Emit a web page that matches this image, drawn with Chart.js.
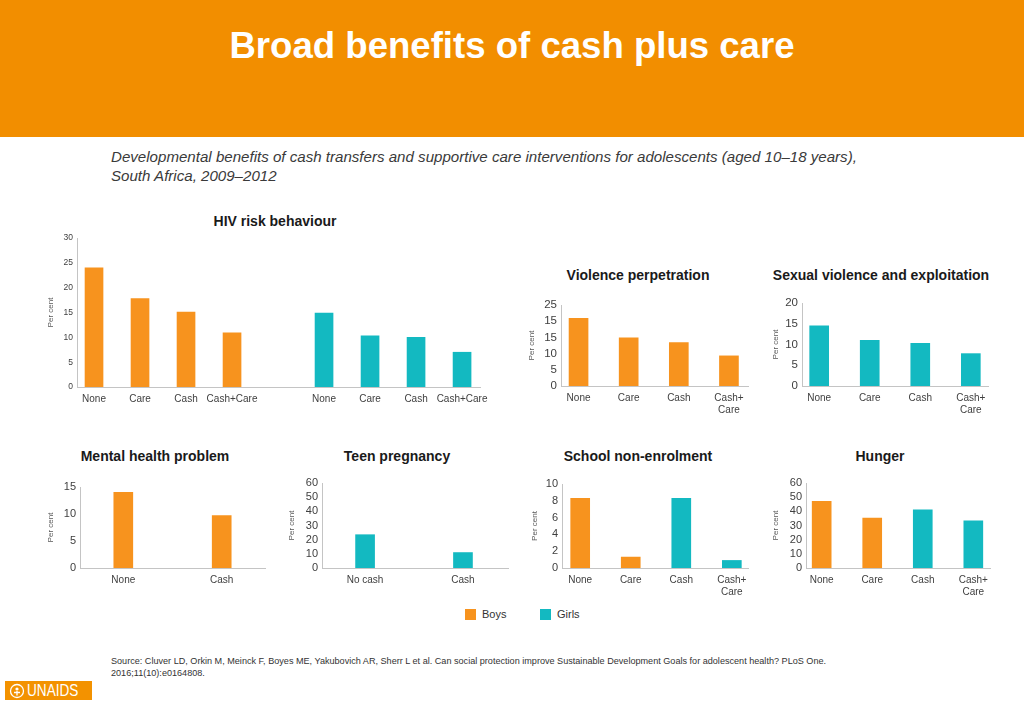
<!DOCTYPE html>
<html><head><meta charset="utf-8">
<script src="https://cdn.jsdelivr.net/npm/chart.js@4.4.1/dist/chart.umd.min.js"></script>
<style>
html,body{margin:0;padding:0;background:#fff;width:1024px;height:709px;overflow:hidden;font-family:'Liberation Sans',Arial,sans-serif;}
#header{position:absolute;left:0;top:0;width:1024px;height:137px;background:#F28E00;}
#title{position:absolute;left:0;width:1024px;top:25px;text-align:center;color:#fff;font-weight:bold;font-size:36.6px;line-height:42px;}
#sub{position:absolute;left:111px;top:147px;font-style:italic;font-size:15.1px;line-height:19px;color:#3a3a3a;white-space:nowrap;}
.ct{position:absolute;font-weight:bold;font-size:14px;line-height:16px;color:#1a1a1a;white-space:nowrap;transform:translate(-50%,-50%);}
canvas{position:absolute;}
#legend{position:absolute;left:0;top:0;font-size:11px;color:#333;}
.sw{position:absolute;width:11px;height:11px;}
.lt{position:absolute;line-height:13px;}
#source{position:absolute;left:111px;top:655px;font-size:9.1px;line-height:12px;color:#333;white-space:nowrap;}
#logo{position:absolute;left:5px;top:681px;width:87px;height:19px;background:#F39200;color:#fff;}
#logo span{position:absolute;left:22px;top:0px;font-size:17px;line-height:19px;display:inline-block;transform:scaleX(0.8);transform-origin:left center;}
</style>
</head>
<body>
<div id="header"></div>
<div id="title">Broad benefits of cash plus care</div>
<div id="sub">Developmental benefits of cash transfers and supportive care interventions for adolescents (aged 10–18 years),<br>South Africa, 2009–2012</div>

<div class="ct" style="left:275px;top:221px;">HIV risk behaviour</div>
<div class="ct" style="left:638px;top:275px;">Violence perpetration</div>
<div class="ct" style="left:881px;top:275px;">Sexual violence and exploitation</div>
<div class="ct" style="left:155px;top:456px;">Mental health problem</div>
<div class="ct" style="left:397px;top:456px;">Teen pregnancy</div>
<div class="ct" style="left:638px;top:456px;">School non-enrolment</div>
<div class="ct" style="left:880px;top:456px;">Hunger</div>

<canvas id="cHiv"></canvas>
<canvas id="cViol"></canvas>
<canvas id="cSex"></canvas>
<canvas id="cMental"></canvas>
<canvas id="cTeen"></canvas>
<canvas id="cSchool"></canvas>
<canvas id="cHunger"></canvas>

<div id="legend"></div>

<div id="source">Source: Cluver LD, Orkin M, Meinck F, Boyes ME, Yakubovich AR, Sherr L et al. Can social protection improve Sustainable Development Goals for adolescent health? PLoS One.<br>2016;11(10):e0164808.</div>
<div id="logo"><svg width="16" height="16" style="position:absolute;left:4px;top:1.5px" viewBox="0 0 16 16"><circle cx="8" cy="8" r="6.5" fill="none" stroke="#fff" stroke-width="1.3"/><circle cx="8" cy="6" r="1.6" fill="#fff"/><path d="M8 8 L8 12.5 M5 9.5 L11 9.5" stroke="#fff" stroke-width="1.3"/></svg><span>UNAIDS</span></div>

<script>
// ---------- data ----------
const seriesNames = ['Boys', 'Girls'];
const seriesColors = ['#F7931E', '#13B9C1'];

const hivCategories = ['None', 'Care', 'Cash', 'Cash+Care'];
const hivBoys = [24.0, 17.8, 15.1, 10.9];
const hivGirls = [14.9, 10.3, 10.0, 7.0];
const hivTicks = ['0', '5', '10', '15', '20', '25', '30'];

const violenceCategories = ['None', 'Care', 'Cash', ['Cash+', 'Care']];
const violenceBoys = [20.9, 14.9, 13.4, 9.3];
const violenceTicks = ['0', '5', '10', '15', '15', '25'];

const sexualCategories = ['None', 'Care', 'Cash', ['Cash+', 'Care']];
const sexualGirls = [14.5, 11.0, 10.3, 7.8];
const sexualTicks = ['0', '5', '10', '15', '20'];

const mentalCategories = ['None', 'Cash'];
const mentalBoys = [14.0, 9.7];
const mentalTicks = ['0', '5', '10', '15'];

const teenCategories = ['No cash', 'Cash'];
const teenGirls = [23.5, 10.9];
const teenTicks = ['0', '10', '20', '30', '40', '50', '60'];

const schoolCategories = ['None', 'Care', 'Cash', ['Cash+', 'Care']];
const schoolValues = [8.3, 1.3, 8.3, 0.9];
const schoolSeries = ['Boys', 'Boys', 'Girls', 'Girls'];
const schoolTicks = ['0', '2', '4', '6', '8', '10'];

const hungerCategories = ['None', 'Care', 'Cash', ['Cash+', 'Care']];
const hungerValues = [47.1, 35.2, 41.0, 33.3];
const hungerSeries = ['Boys', 'Boys', 'Girls', 'Girls'];
const hungerTicks = ['0', '10', '20', '30', '40', '50', '60'];

// ---------- helpers ----------
Chart.defaults.font.family = "'Liberation Sans', Arial, sans-serif";
const AXIS = '#c4c4c4';
const TICK = '#404040';
const colorOf = name => seriesColors[seriesNames.indexOf(name)];

function pointsFor(values, series, name, positions) {
  const pts = [];
  values.forEach((v, i) => { if (series[i] === name) pts.push({ x: positions[i], y: v }); });
  return pts;
}

function panel(id, geo, labels, positions, datasets, tickLabels, step, o) {
  const padTop = 8, padRight = 14, H = 34;
  const L = Math.round(geo.titleX - 9);
  const W = geo.left - L;
  const cv = document.getElementById(id);
  cv.width = Math.round(geo.right + padRight - L);
  cv.height = Math.round(geo.bottom - geo.top + padTop + H);
  cv.style.left = L + 'px';
  cv.style.top = (geo.top - padTop) + 'px';
  new Chart(cv, {
    type: 'bar',
    data: {
      datasets: datasets.map(d => ({
        label: d.label, data: d.points, backgroundColor: colorOf(d.label),
        grouped: false, barThickness: o.barW, borderWidth: 0
      }))
    },
    options: {
      responsive: false, animation: false, events: [],
      layout: { padding: { top: padTop, right: padRight, left: 0, bottom: 0 } },
      plugins: { legend: { display: false }, tooltip: { enabled: false } },
      scales: {
        x: {
          type: 'linear', offset: false, min: o.xMin, max: o.xMax,
          grid: { display: false, drawTicks: false },
          border: { display: true, color: AXIS, width: 1 },
          afterBuildTicks: s => { s.ticks = positions.map(v => ({ value: v })); },
          afterFit: s => { s.height = H; s.paddingLeft = 0; s.paddingRight = 0; },
          ticks: {
            autoSkip: false, maxRotation: 0, minRotation: 0, padding: 6, color: TICK,
            font: { size: 10 },
            callback: v => { const i = positions.indexOf(v); return i >= 0 ? labels[i] : ''; }
          }
        },
        y: {
          min: 0, max: step * (tickLabels.length - 1),
          grid: { display: false, drawTicks: false },
          border: { display: true, color: AXIS, width: 1 },
          ticks: {
            autoSkip: false, stepSize: step, padding: 4, color: TICK, font: { size: o.yFont },
            callback: v => tickLabels[Math.round(v / step)]
          },
          title: { display: true, text: 'Per cent', color: '#595959', font: { size: 8 }, padding: { top: 4, bottom: 0 } },
          afterFit: s => { s.width = W; s.paddingTop = 0; s.paddingBottom = 0; }
        }
      }
    }
  });
}

// HIV: boys at slots 0-3, girls at slots 5-8 (one empty slot between)
const hivPos = [0, 1, 2, 3, 5, 6, 7, 8];
panel('cHiv', { titleX: 51, left: 77, right: 480, top: 238, bottom: 387 },
  hivCategories.concat(hivCategories), hivPos,
  [
    { label: 'Boys', points: hivBoys.map((v, i) => ({ x: hivPos[i], y: v })) },
    { label: 'Girls', points: hivGirls.map((v, i) => ({ x: hivPos[i + 4], y: v })) }
  ], hivTicks, 5, { xMin: -0.37, xMax: 8.39, barW: 18, yFont: 8.5 });

const pos4 = [0, 1, 2, 3];
const pos2 = [0, 1];

panel('cViol', { titleX: 532, left: 561, right: 748, top: 305, bottom: 386 },
  violenceCategories, pos4,
  [{ label: 'Boys', points: violenceBoys.map((v, i) => ({ x: pos4[i], y: v })) }],
  violenceTicks, 5, { xMin: -0.35, xMax: 3.38, barW: 19, yFont: 11.5 });

panel('cSex', { titleX: 775.5, left: 802, right: 988, top: 303, bottom: 386 },
  sexualCategories, pos4,
  [{ label: 'Girls', points: sexualGirls.map((v, i) => ({ x: pos4[i], y: v })) }],
  sexualTicks, 5, { xMin: -0.34, xMax: 3.34, barW: 19, yFont: 11.5 });

panel('cMental', { titleX: 51, left: 80, right: 265, top: 487, bottom: 568 },
  mentalCategories, pos2,
  [{ label: 'Boys', points: mentalBoys.map((v, i) => ({ x: pos2[i], y: v })) }],
  mentalTicks, 5, { xMin: -0.44, xMax: 1.44, barW: 19, yFont: 11 });

panel('cTeen', { titleX: 292, left: 322, right: 508, top: 483, bottom: 568 },
  teenCategories, pos2,
  [{ label: 'Girls', points: teenGirls.map((v, i) => ({ x: pos2[i], y: v })) }],
  teenTicks, 10, { xMin: -0.44, xMax: 1.46, barW: 19, yFont: 11 });

panel('cSchool', { titleX: 534.5, left: 562, right: 748, top: 484, bottom: 568 },
  schoolCategories, pos4,
  seriesNames.map(n => ({ label: n, points: pointsFor(schoolValues, schoolSeries, n, pos4) })),
  schoolTicks, 2, { xMin: -0.36, xMax: 3.32, barW: 19, yFont: 11 });

panel('cHunger', { titleX: 776.3, left: 806, right: 990, top: 483, bottom: 568 },
  hungerCategories, pos4,
  seriesNames.map(n => ({ label: n, points: pointsFor(hungerValues, hungerSeries, n, pos4) })),
  hungerTicks, 10, { xMin: -0.31, xMax: 3.33, barW: 19, yFont: 11 });

// legend
const lg = document.getElementById('legend');
const legendX = [465, 540];
seriesNames.forEach((n, i) => {
  const sw = document.createElement('div');
  sw.className = 'sw'; sw.style.left = legendX[i] + 'px'; sw.style.top = '609px';
  sw.style.background = seriesColors[i];
  const t = document.createElement('div');
  t.className = 'lt'; t.style.left = (legendX[i] + 17) + 'px'; t.style.top = '608px';
  t.textContent = n;
  lg.appendChild(sw); lg.appendChild(t);
});
</script>
</body></html>
